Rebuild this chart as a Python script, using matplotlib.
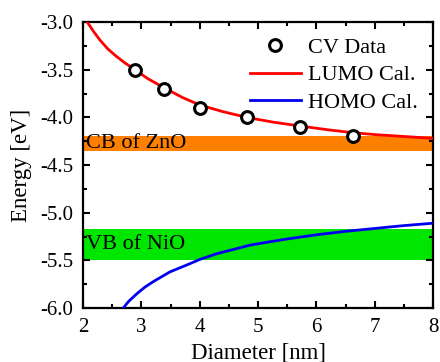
import matplotlib
matplotlib.use('Agg')
import matplotlib.pyplot as plt
from matplotlib.ticker import MultipleLocator

plt.rcParams['font.family'] = ['Liberation Serif', 'DejaVu Serif']

# --- CV data (measured) ---
cv_diameter = [2.89, 3.39, 4.0, 4.81, 5.72, 6.62]
cv_energy = [-3.50, -3.70, -3.90, -4.00, -4.10, -4.20]

# --- calculated LUMO / HOMO curves ---
lumo_d = [2.07, 2.18, 2.29, 2.42, 2.57, 2.72, 2.89, 3.10, 3.39, 3.70, 4.00,
          4.40, 4.81, 5.26, 5.72, 6.20, 6.62, 7.00, 7.50, 8.00]
lumo_e = [-3.00, -3.10, -3.19, -3.28, -3.36, -3.43, -3.50, -3.59, -3.69, -3.79, -3.87,
          -3.94, -4.00, -4.05, -4.09, -4.13, -4.16, -4.18, -4.20, -4.22]
homo_d = [2.66, 2.78, 2.92, 3.06, 3.21, 3.35, 3.49, 3.65, 3.81, 4.00, 4.29,
          4.58, 4.86, 5.15, 5.50, 6.02, 6.50, 7.00, 7.50, 8.00]
homo_e = [-6.02, -5.93, -5.85, -5.78, -5.72, -5.67, -5.62, -5.58, -5.54, -5.49, -5.43,
          -5.385, -5.34, -5.31, -5.275, -5.23, -5.195, -5.165, -5.135, -5.11]

# --- reference bands ---
cb_zno = (-4.35, -4.20)
vb_nio = (-5.50, -5.17)

fig = plt.figure(figsize=(4.4, 3.62), dpi=100)
ax = fig.add_axes([0.189, 0.149, 0.795, 0.790])

ax.axhspan(cb_zno[0], cb_zno[1], color='#ff8000', lw=0, zorder=1)
ax.axhspan(vb_nio[0], vb_nio[1], color='#00e600', lw=0, zorder=1)
ax.text(2.05, sum(cb_zno) / 2, 'CB of ZnO', fontsize=16, va='center', ha='left', zorder=2)
ax.text(2.05, sum(vb_nio) / 2, 'VB of NiO', fontsize=16, va='center', ha='left', zorder=2)

ax.plot(cv_diameter, cv_energy, 'o', ms=8.5, mfc='white', mec='black', mew=2.2,
        label='CV Data', zorder=5)
ax.plot(lumo_d, lumo_e, color='red', lw=2.0, label='LUMO Cal.', zorder=3)
ax.plot(homo_d, homo_e, color='#0000f0', lw=2.0, label='HOMO Cal.', zorder=3)

ax.set_xlim(2, 8)
ax.set_ylim(-6.0, -3.0)
ax.xaxis.set_major_locator(MultipleLocator(1))
ax.xaxis.set_minor_locator(MultipleLocator(0.5))
ax.yaxis.set_major_locator(MultipleLocator(0.5))
ax.yaxis.set_minor_locator(MultipleLocator(0.25))
ax.yaxis.set_major_formatter(plt.FuncFormatter(lambda v, p: f'{v:.1f}'))

ax.tick_params(which='both', direction='in', top=True, right=True, width=1.5,
               labelsize=15, pad=7)
ax.tick_params(which='major', length=5)
ax.tick_params(which='minor', length=3)
for s in ax.spines.values():
    s.set_linewidth(1.6)

ax.set_xlabel('Diameter [nm]', fontsize=16.5, labelpad=4)
ax.set_ylabel('Energy [eV]', fontsize=16.5, labelpad=6)

ax.legend(loc='upper right', frameon=False, fontsize=16, handlelength=2.3,
          handletextpad=0.3, labelspacing=0.3, borderaxespad=0.3, borderpad=0.4)

fig.savefig('out.png', dpi=100)
